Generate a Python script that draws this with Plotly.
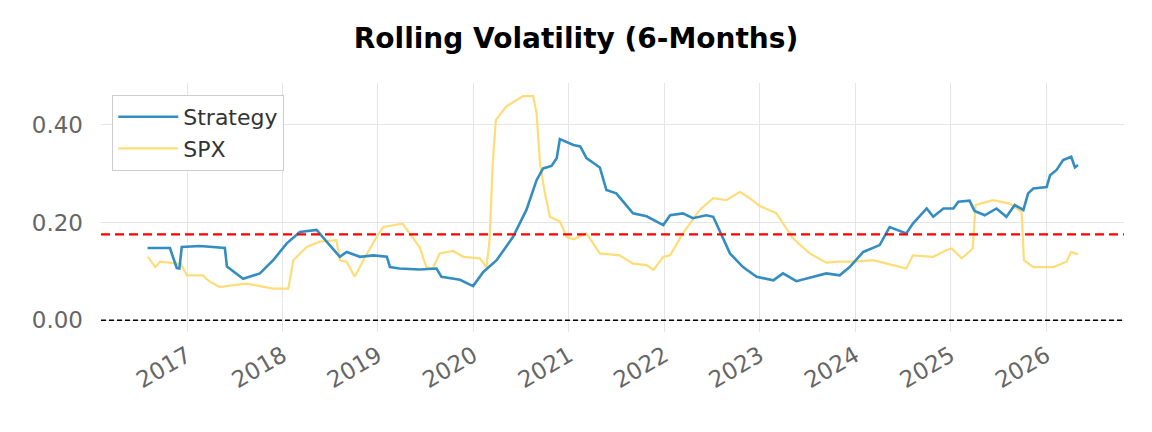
import plotly.graph_objects as go

# ---- data ----
strategy_dates = [
    "2016-08-02", "2016-10-27", "2016-11-09", "2016-11-22", "2016-12-02", "2016-12-11",
    "2017-02-19", "2017-05-25", "2017-06-02", "2017-08-03", "2017-10-06", "2017-11-26",
    "2018-01-16", "2018-03-08", "2018-05-11", "2018-05-23", "2018-06-30", "2018-08-08",
    "2018-09-03", "2018-10-24", "2018-12-14", "2019-02-04", "2019-02-16", "2019-03-24",
    "2019-06-09", "2019-08-13", "2019-09-01", "2019-11-11", "2019-12-31", "2020-02-08",
    "2020-03-30", "2020-06-01", "2020-07-22", "2020-08-30", "2020-09-24", "2020-10-26",
    "2020-11-15", "2020-11-27", "2021-01-18", "2021-02-13", "2021-03-09", "2021-04-29",
    "2021-05-24", "2021-07-01", "2021-08-09", "2021-09-03", "2021-10-25", "2021-12-03",
    "2021-12-28", "2022-01-23", "2022-03-13", "2022-04-20", "2022-06-10", "2022-07-07",
    "2022-07-31", "2022-09-09", "2022-10-29", "2022-12-20", "2023-02-22", "2023-03-31",
    "2023-05-21", "2023-07-23", "2023-09-13", "2023-11-03", "2023-12-11", "2024-02-01",
    "2024-04-04", "2024-05-12", "2024-07-15", "2024-08-09", "2024-10-01", "2024-10-26",
    "2024-12-04", "2025-01-11", "2025-01-30", "2025-03-14", "2025-04-02", "2025-05-11",
    "2025-06-25", "2025-08-02", "2025-09-03", "2025-10-06", "2025-10-24", "2025-11-13",
    "2026-01-03", "2026-01-16", "2026-02-10", "2026-03-07", "2026-04-07", "2026-04-21",
    "2026-05-03",
]
strategy_vol = [
    0.148, 0.148, 0.127, 0.107, 0.106, 0.150,
    0.152, 0.148, 0.110, 0.085, 0.096, 0.123,
    0.157, 0.181, 0.185, 0.178, 0.154, 0.130,
    0.140, 0.130, 0.133, 0.130, 0.109, 0.106,
    0.104, 0.106, 0.089, 0.083, 0.070, 0.099,
    0.123, 0.171, 0.226, 0.287, 0.311, 0.316,
    0.332, 0.371, 0.359, 0.356, 0.332, 0.313,
    0.267, 0.260, 0.236, 0.219, 0.213, 0.202,
    0.195, 0.215, 0.219, 0.209, 0.215, 0.212,
    0.185, 0.137, 0.109, 0.089, 0.082, 0.096,
    0.080, 0.089, 0.096, 0.092, 0.109, 0.140,
    0.154, 0.191, 0.178, 0.198, 0.229, 0.212,
    0.229, 0.229, 0.243, 0.245, 0.224, 0.215,
    0.229, 0.212, 0.236, 0.226, 0.260, 0.270,
    0.273, 0.297, 0.308, 0.328, 0.335, 0.313,
    0.318,
]

spx_dates = [
    "2016-08-03", "2016-09-01", "2016-09-19", "2016-11-22", "2016-12-08", "2016-12-31",
    "2017-03-02", "2017-03-28", "2017-05-06", "2017-06-26", "2017-08-16", "2017-10-06",
    "2017-11-26", "2018-01-23", "2018-02-11", "2018-04-03", "2018-05-23", "2018-07-26",
    "2018-08-08", "2018-09-03", "2018-10-04", "2018-11-06", "2018-12-27", "2019-01-21",
    "2019-04-05", "2019-05-02", "2019-06-09", "2019-07-05", "2019-07-30", "2019-08-25",
    "2019-10-15", "2019-11-23", "2020-01-26", "2020-02-20", "2020-03-03", "2020-03-15",
    "2020-03-27", "2020-05-06", "2020-06-14", "2020-07-09", "2020-08-17", "2020-08-30",
    "2020-09-12", "2020-10-01", "2020-10-20", "2020-11-27", "2020-12-23", "2021-01-18",
    "2021-03-09", "2021-04-29", "2021-07-14", "2021-09-03", "2021-10-25", "2021-11-20",
    "2021-12-28", "2022-01-23", "2022-03-13", "2022-05-16", "2022-07-07", "2022-08-26",
    "2022-10-17", "2022-11-24", "2023-01-01", "2023-03-06", "2023-05-08", "2023-07-11",
    "2023-09-13", "2023-11-03", "2023-12-25", "2024-03-10", "2024-05-25", "2024-07-15",
    "2024-08-09", "2024-10-26", "2024-12-17", "2025-01-05", "2025-02-12", "2025-03-26",
    "2025-04-06", "2025-06-11", "2025-08-15", "2025-09-29", "2025-10-08", "2025-11-13",
    "2026-01-28", "2026-03-20", "2026-04-07", "2026-05-03",
]
spx_vol = [
    0.130, 0.109, 0.120, 0.117, 0.115, 0.092,
    0.092, 0.079, 0.068, 0.072, 0.075, 0.070,
    0.065, 0.065, 0.123, 0.150, 0.161, 0.164,
    0.123, 0.120, 0.089, 0.123, 0.171, 0.191,
    0.198, 0.178, 0.150, 0.109, 0.106, 0.137,
    0.142, 0.130, 0.127, 0.109, 0.164, 0.321,
    0.410, 0.438, 0.451, 0.459, 0.459, 0.424,
    0.321, 0.260, 0.212, 0.202, 0.171, 0.166,
    0.178, 0.137, 0.133, 0.116, 0.113, 0.103,
    0.130, 0.133, 0.178, 0.226, 0.250, 0.246,
    0.263, 0.250, 0.234, 0.219, 0.168, 0.137,
    0.118, 0.120, 0.120, 0.123, 0.113, 0.106,
    0.133, 0.130, 0.144, 0.147, 0.127, 0.147,
    0.236, 0.246, 0.239, 0.222, 0.123, 0.109,
    0.109, 0.120, 0.140, 0.135,
]

strategy_mean = 0.176
year_ticks = [f"{y}-01-01" for y in range(2017, 2027)]
year_labels = [str(y) for y in range(2017, 2027)]
y_ticks = [0.0, 0.2, 0.4]

# ---- figure ----
fig = go.Figure()
fig.add_trace(go.Scatter(
    x=spx_dates, y=spx_vol, mode="lines", name="SPX", legendgroup="b",
    line=dict(color="#fedd78", width=2.2), legendrank=2,
))
fig.add_trace(go.Scatter(
    x=strategy_dates, y=strategy_vol, mode="lines", name="Strategy", legendgroup="a",
    line=dict(color="#348dc1", width=2.6), legendrank=1,
))

fig.add_shape(type="line", xref="paper", x0=0, x1=1, yref="y",
              y0=strategy_mean, y1=strategy_mean,
              line=dict(color="red", width=2.2, dash="9px,5px"), layer="above")
fig.add_shape(type="line", xref="paper", x0=0, x1=1, yref="y",
              y0=0, y1=0,
              line=dict(color="black", width=1.4, dash="5px,3px"), layer="above")

fig.update_layout(
    width=1152, height=432,
    margin=dict(l=101, r=28, t=83, b=100),
    paper_bgcolor="white", plot_bgcolor="white",
    font=dict(family="DejaVu Sans", color="#666666"),
    title=dict(text="<b>Rolling Volatility (6-Months)</b>", x=0.5, xanchor="center",
               y=1 - 38 / 432, yanchor="middle", xref="container", yref="container",
               font=dict(size=28, color="black", family="DejaVu Sans")),
    showlegend=True,
    legend=dict(x=0.011, y=0.952, xanchor="left", yanchor="top",
                bgcolor="white", bordercolor="#cccccc", borderwidth=1,
                font=dict(size=22, color="#333333", family="DejaVu Sans"),
                traceorder="grouped", tracegroupgap=0, itemwidth=60),
    xaxis=dict(range=["2016-02-06", "2026-10-26"], tickvals=year_ticks,
               ticktext=year_labels, tickangle=-30, showgrid=True,
               gridcolor="#e5e5e5", gridwidth=1, zeroline=False, showline=False,
               tickfont=dict(size=23, color="#666666"), ticks="",
               ticklabelstandoff=5),
    yaxis=dict(range=[-0.024, 0.486], tickvals=y_ticks, tickformat=".2f",
               showgrid=True, gridcolor="#e5e5e5", gridwidth=1, zeroline=False,
               showline=False, tickfont=dict(size=23, color="#666666"),
               ticks="", ticklabelstandoff=17),
)

fig.write_html("out.html")
